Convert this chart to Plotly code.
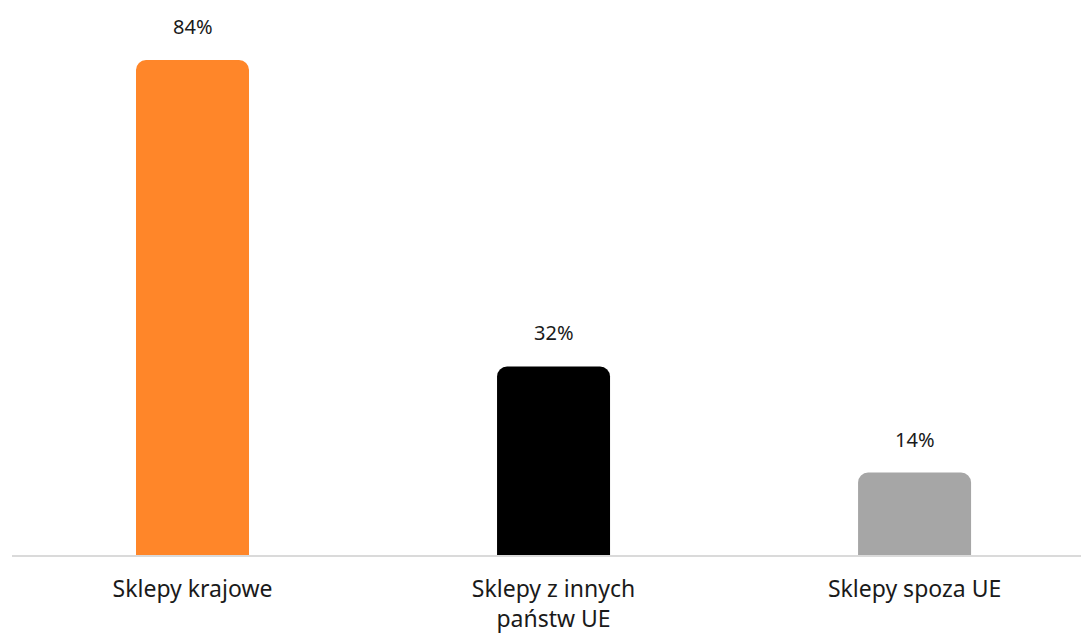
import plotly.graph_objects as go

categories = ["Sklepy krajowe", "Sklepy z innych<br>państw UE", "Sklepy spoza UE"]
values = [84, 32, 14]
colors = ["#FF8629", "#000000", "#A6A6A6"]

fig = go.Figure(
    go.Bar(
        x=list(range(len(categories))),
        y=values,
        width=0.313,
        marker=dict(color=colors, cornerradius=10, line=dict(width=0)),
        hoverinfo="skip",
    )
)

for i, v in enumerate(values):
    fig.add_annotation(
        x=i, y=v, text=f"{v}%", showarrow=False,
        yanchor="bottom", yshift=18,
        font=dict(family="Noto Sans", size=20, color="#1a1a1a"),
    )

fig.update_layout(
    width=1081, height=636,
    margin=dict(l=12, r=0, t=0, b=81),
    plot_bgcolor="white", paper_bgcolor="white",
    showlegend=False,
    xaxis=dict(
        range=[-0.5, 2.461],
        tickmode="array",
        tickvals=list(range(len(categories))),
        ticktext=categories,
        showgrid=False, zeroline=False,
        showline=True, linecolor="#DADADA", linewidth=2,
        ticks="", ticklabelstandoff=12,
        tickfont=dict(family="Noto Sans", size=23, color="#1a1a1a"),
    ),
    yaxis=dict(range=[0, 94.2], visible=False),
)

fig.write_html("out.html")
